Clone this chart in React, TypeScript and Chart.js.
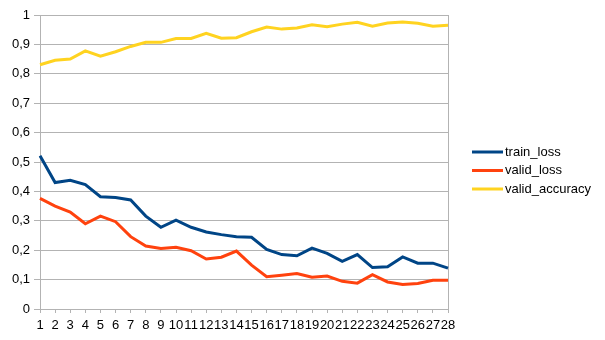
import React, { useEffect, useRef } from "react";
import { Chart, registerables } from "chart.js";

Chart.register(...registerables);

const epochs = ["1","2","3","4","5","6","7","8","9","10","11","12","13","14","15","16","17","18","19","20","21","22","23","24","25","26","27","28"];
const trainLoss = [0.521,0.43,0.438,0.423,0.382,0.379,0.371,0.316,0.278,0.302,0.278,0.262,0.253,0.246,0.244,0.203,0.185,0.181,0.207,0.189,0.162,0.185,0.141,0.144,0.177,0.156,0.156,0.139];
const validLoss = [0.376,0.35,0.33,0.29,0.316,0.297,0.246,0.214,0.206,0.21,0.198,0.17,0.176,0.197,0.149,0.11,0.115,0.121,0.108,0.112,0.094,0.088,0.117,0.092,0.083,0.087,0.098,0.098];
const validAccuracy = [0.831,0.846,0.85,0.878,0.86,0.875,0.893,0.907,0.907,0.92,0.92,0.938,0.921,0.923,0.943,0.959,0.952,0.956,0.967,0.96,0.969,0.975,0.962,0.973,0.976,0.972,0.962,0.965];
const seriesNames = ["train_loss", "valid_loss", "valid_accuracy"];
const seriesColors = ["#004586", "#ff420e", "#ffd320"];

const FONT = "'Liberation Sans', Arial, sans-serif";

const legendPlugin = {
  id: "customLegend",
  afterDraw(chart: any) {
    const ctx = chart.ctx;
    const x0 = 472;
    const yStart = 152;
    const gap = 18.5;
    ctx.save();
    ctx.font = `13px ${FONT}`;
    ctx.textBaseline = "middle";
    ctx.textAlign = "left";
    chart.data.datasets.forEach((ds: any, i: number) => {
      const y = yStart + i * gap;
      ctx.strokeStyle = ds.borderColor;
      ctx.lineWidth = 3;
      ctx.beginPath();
      ctx.moveTo(x0, y);
      ctx.lineTo(x0 + 31, y);
      ctx.stroke();
      ctx.fillStyle = "#000";
      ctx.fillText(ds.label, x0 + 33, y);
    });
    ctx.restore();
  },
};

export default function App() {
  const ref = useRef<HTMLCanvasElement>(null);
  useEffect(() => {
    if (!ref.current) return;
    const data = [trainLoss, validLoss, validAccuracy];
    const chart = new Chart(ref.current, {
      type: "line",
      data: {
        labels: epochs,
        datasets: data.map((d, i) => ({
          label: seriesNames[i],
          data: d,
          borderColor: seriesColors[i],
          backgroundColor: seriesColors[i],
          borderWidth: 3,
          pointRadius: 0,
          tension: 0,
          fill: false,
        })),
      },
      options: {
        animation: false,
        responsive: false,
        maintainAspectRatio: false,
        layout: { padding: { left: 0, right: 157, top: 15, bottom: 0 } },
        plugins: { legend: { display: false }, tooltip: { enabled: false } },
        scales: {
          x: {
            offset: false,
            grid: {
              drawOnChartArea: true,
              color: (c: any) => (c.index === epochs.length - 1 ? "#b3b3b3" : "rgba(0,0,0,0)"),
              tickColor: "#b3b3b3",
              tickLength: 4,
            },
            border: { display: true, color: "#b3b3b3" },
            ticks: {
              autoSkip: false,
              maxRotation: 0,
              minRotation: 0,
              padding: 5,
              color: "#000",
              font: { family: FONT, size: 13 },
            },
            afterFit: (s: any) => { s.height = 31; },
          },
          y: {
            min: 0,
            max: 1,
            ticks: {
              stepSize: 0.1,
              color: "#000",
              padding: 4,
              font: { family: FONT, size: 13 },
              callback: (v: any) => {
                const n = Math.round(Number(v) * 10) / 10;
                return String(n).replace(".", ",");
              },
            },
            grid: { color: "#b3b3b3", drawTicks: true, tickLength: 6 },
            border: { display: true, color: "#b3b3b3" },
            afterFit: (s: any) => { s.width = 40; },
          },
        },
      },
      plugins: [legendPlugin],
    });
    return () => chart.destroy();
  }, []);
  return (
    <div style={{ position: "fixed", left: 0, top: 0, width: 605, height: 340, background: "#fff" }}>
      <canvas ref={ref} width={605} height={340} style={{ width: 605, height: 340 }} />
    </div>
  );
}
